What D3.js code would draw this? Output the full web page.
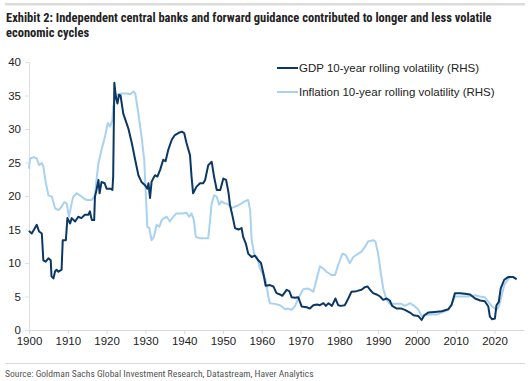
<!DOCTYPE html>
<html>
<head>
<meta charset="utf-8">
<script src="https://cdn.jsdelivr.net/npm/d3@7"></script>
<style>
  body { margin: 0; background: #fff; }
  svg { display: block; }
</style>
</head>
<body>
<svg id="chart" width="530" height="381"></svg>
<script>
// GDP 10-year rolling volatility, [year, value]
const gdpVol = [
  [1900, 14.8], [1900.7, 14.4], [1901.2, 14.9], [1902, 15.7], [1902.6, 14.7], [1903.3, 14.4],
  [1903.7, 10.4], [1904.3, 10.2], [1905, 10.7], [1905.6, 10.4], [1905.8, 8.0], [1906.3, 7.7],
  [1906.7, 8.7], [1907.1, 9.0], [1907.6, 8.7], [1908.4, 9.0], [1908.7, 13.4], [1909.5, 13.4],
  [1909.9, 16.7], [1910.6, 15.9], [1911, 16.7], [1911.9, 16.2], [1912.7, 16.9], [1913.5, 16.7],
  [1914.4, 17.2], [1915.3, 17.2], [1915.7, 17.7], [1916.2, 16.4], [1916.8, 16.4], [1917, 19.9],
  [1917.4, 20.9], [1917.9, 22.4], [1918.2, 20.4], [1918.7, 22.1], [1919.5, 21.9], [1920, 21.1],
  [1921, 21.1], [1921.5, 20.9], [1921.7, 22.9], [1922, 36.9], [1922.4, 34.8], [1922.8, 33.8],
  [1923.2, 35.1], [1923.6, 35.0], [1924.3, 32.3], [1925.6, 30.1], [1926.5, 27.9], [1927.3, 25.6],
  [1928.2, 23.1], [1929, 22.1], [1929.9, 21.6], [1930.5, 21.1], [1930.8, 21.9], [1931.2, 19.7],
  [1931.6, 22.1], [1932, 22.6], [1932.5, 23.1], [1933.1, 22.9], [1933.8, 23.9], [1934.6, 25.4],
  [1935.2, 25.2], [1935.9, 26.9], [1936.8, 28.4], [1937.6, 29.1], [1938.5, 29.4], [1939.4, 29.6],
  [1940, 29.4], [1940.6, 27.9], [1941.5, 26.1], [1941.9, 22.9], [1942.3, 20.4], [1943.2, 21.4],
  [1944.1, 21.9], [1944.9, 21.9], [1945.4, 22.4], [1946.2, 24.6], [1947.1, 25.1], [1947.7, 22.9],
  [1948.4, 20.9], [1949.3, 20.9], [1950.1, 22.6], [1950.8, 22.4], [1951.4, 20.6], [1951.8, 18.7],
  [1952.5, 16.9], [1953.1, 15.2], [1954, 15.0], [1954.8, 15.2], [1955.2, 13.9], [1955.9, 12.9],
  [1956.5, 11.4], [1957.4, 10.9], [1958.2, 11.1], [1959.1, 10.4], [1959.8, 10.0], [1960.4, 8.5],
  [1961, 6.6], [1962.1, 6.7], [1963, 6.5], [1963.8, 5.5], [1964.7, 5.3], [1965.3, 5.1],
  [1966.4, 6.0], [1967.1, 5.8], [1967.7, 4.9], [1968.6, 4.8], [1969.4, 4.9], [1970.3, 3.5],
  [1971.6, 3.4], [1972.4, 3.2], [1973.3, 3.7], [1974.2, 3.8], [1975, 3.7], [1975.9, 4.0],
  [1976.5, 3.6], [1977.2, 4.0], [1978.1, 3.6], [1979, 4.7], [1979.7, 3.7], [1980.4, 3.6],
  [1981.4, 3.7], [1982.3, 4.7], [1983.1, 5.7], [1984.4, 5.8], [1985.7, 6.0], [1986.6, 6.4],
  [1987.3, 6.5], [1987.9, 6.0], [1988.7, 5.5], [1989.6, 5.3], [1990.5, 5.0], [1991.3, 4.5],
  [1992.2, 4.7], [1993, 4.4], [1993.6, 3.6], [1994.8, 3.2], [1996, 3.2], [1996.9, 3.0],
  [1998.2, 2.6], [1999.1, 2.2], [2000.3, 2.1], [2001.2, 1.5], [2001.9, 2.2], [2002.9, 2.6],
  [2004.6, 2.7], [2006.4, 2.8], [2008.1, 3.1], [2008.9, 3.7], [2009.8, 5.5], [2011.1, 5.5],
  [2012.4, 5.4], [2013.7, 5.3], [2015, 4.7], [2016.3, 4.4], [2017.5, 4.3], [2018.4, 3.5],
  [2018.8, 2.0], [2019.4, 1.6], [2020.1, 1.7], [2020.5, 3.7], [2021.1, 4.2], [2021.6, 6.2],
  [2022.5, 7.5], [2023.5, 7.9], [2024.8, 7.9], [2025.7, 7.6]
];

// Inflation 10-year rolling volatility, [year, value]
const inflVol = [
  [1900, 24.1], [1900.3, 25.6], [1901.2, 25.8], [1902, 25.6], [1902.6, 24.6], [1903.3, 24.9],
  [1903.7, 24.4], [1904.3, 22.1], [1905, 20.1], [1905.9, 19.9], [1906.7, 18.2], [1907.6, 17.9],
  [1908.4, 18.4], [1909.1, 19.1], [1909.7, 18.9], [1910.3, 16.9], [1911, 18.9], [1911.4, 19.9],
  [1912.3, 20.4], [1913.1, 20.1], [1914, 19.7], [1914.9, 19.4], [1916.2, 19.4], [1917, 20.1],
  [1917.4, 22.4], [1917.9, 24.9], [1918.7, 26.9], [1919.6, 28.9], [1920.3, 30.9], [1920.9, 30.4],
  [1921.5, 31.3], [1921.7, 33.3], [1922.2, 34.6], [1922.9, 35.2], [1923.9, 35.3], [1925.2, 35.3],
  [1926.1, 35.2], [1926.9, 35.6], [1927.4, 35.3], [1928.2, 32.3], [1929, 28.9], [1929.7, 25.4],
  [1930.1, 20.4], [1930.5, 15.4], [1931, 15.2], [1931.6, 13.4], [1932.2, 13.9], [1932.9, 15.7],
  [1933.6, 15.4], [1934.2, 16.4], [1934.8, 16.7], [1935.5, 16.9], [1936.3, 16.2], [1937.2, 16.9],
  [1938, 17.4], [1939.7, 17.4], [1940.6, 17.5], [1941.3, 16.9], [1941.9, 17.4], [1942.5, 16.4],
  [1943, 13.9], [1944, 13.7], [1946.2, 13.7], [1946.6, 15.9], [1947.1, 18.9], [1947.7, 20.1],
  [1948.4, 19.9], [1949, 18.7], [1949.6, 19.2], [1950.5, 18.9], [1951.3, 18.8], [1952.2, 18.2],
  [1953.5, 18.5], [1954.8, 18.9], [1955.9, 19.3], [1956.5, 19.4], [1957, 17.9], [1957.4, 13.4],
  [1958.1, 11.2], [1958.8, 10.9], [1959.5, 9.2], [1960.4, 8.2], [1961, 7.5], [1961.7, 5.0],
  [1962.1, 4.0], [1963.4, 3.9], [1964.7, 3.7], [1966, 3.1], [1966.8, 3.2], [1967.7, 3.0],
  [1968.6, 3.6], [1969.4, 4.7], [1970.7, 6.1], [1972, 6.2], [1973.3, 5.7], [1974.1, 7.5],
  [1975, 9.5], [1975.8, 9.2], [1976.7, 8.7], [1978, 8.2], [1978.9, 8.2], [1979.7, 9.7],
  [1980.8, 11.4], [1981.6, 11.2], [1982.7, 10.0], [1983.6, 10.9], [1984.9, 11.4], [1985.7, 11.7],
  [1986.6, 12.4], [1987.4, 13.2], [1988.7, 13.4], [1989.3, 13.2], [1990, 11.4], [1990.7, 8.5],
  [1991.3, 6.2], [1992.2, 4.5], [1993, 3.9], [1994.3, 3.9], [1996, 3.9], [1996.9, 3.6],
  [1998.2, 4.0], [1999.3, 3.6], [2000.3, 3.1], [2001.2, 2.1], [2002.1, 2.2], [2003.4, 2.3],
  [2005.1, 2.3], [2006.8, 2.7], [2008.1, 3.0], [2009.2, 4.2], [2009.8, 5.0], [2011.1, 5.0],
  [2013.2, 5.0], [2015, 5.2], [2016.3, 5.0], [2017.5, 4.9], [2018.4, 4.2], [2019.4, 3.5],
  [2020.5, 3.0], [2021.1, 3.5], [2021.8, 5.0], [2022.5, 6.7], [2023.1, 7.3], [2024, 7.9],
  [2024.9, 7.9], [2025.7, 7.5]
];

const xTicks = [1900, 1910, 1920, 1930, 1940, 1950, 1960, 1970, 1980, 1990, 2000, 2010, 2020];
const yTicks = [0, 5, 10, 15, 20, 25, 30, 35, 40];

const seriesNames = ["GDP 10-year rolling volatility (RHS)", "Inflation 10-year rolling volatility (RHS)"];
const seriesColors = ["#0b3765", "#a8d2f0"];

const titleLines = [
  "Exhibit 2: Independent central banks and forward guidance contributed to longer and less volatile",
  "economic cycles"
];
const sourceText = "Source: Goldman Sachs Global Investment Research, Datastream, Haver Analytics";

const svg = d3.select("#chart");
const W = 530, H = 381;
const margin = {left: 29, right: 6, top: 62, bottom: 51};

const x = d3.scaleLinear().domain([1900, 2027.6]).range([margin.left, W - margin.right]);
const y = d3.scaleLinear().domain([0, 40]).range([H - margin.bottom, margin.top]);

// top rule
svg.append("rect").attr("x", 5).attr("y", 3).attr("width", 520).attr("height", 2.5).attr("fill", "#dcdcdc");

// title
const narrow = "'Liberation Sans Narrow', 'Arial Narrow', 'Roboto Condensed', sans-serif";
svg.append("g").selectAll("text").data(titleLines).join("text")
  .attr("x", 6).attr("y", (d, i) => 22 + i * 15)
  .attr("font-family", narrow).attr("font-weight", "bold").attr("font-size", 12.5)
  .attr("fill", "#222").text(d => d);

// axes
const yAxis = svg.append("g").attr("transform", `translate(${margin.left},0)`)
  .call(d3.axisLeft(y).tickValues(yTicks).tickSize(4).tickPadding(4));
yAxis.select(".domain").attr("stroke", "#e0e0e0");
yAxis.selectAll(".tick line").attr("stroke", "#e0e0e0");
yAxis.selectAll("text").attr("font-family", "Arial, 'Liberation Sans', sans-serif")
  .attr("font-size", 11.5).attr("fill", "#222");

const xAxis = svg.append("g").attr("transform", `translate(0,${H - margin.bottom})`)
  .call(d3.axisBottom(x).tickValues(xTicks).tickFormat(d3.format("d")).tickSize(4).tickSizeOuter(0).tickPadding(3));
xAxis.select(".domain").attr("stroke", "#d9d9d9");
xAxis.selectAll(".tick line").attr("stroke", "#d9d9d9");
xAxis.selectAll("text").attr("font-family", "Arial, 'Liberation Sans', sans-serif")
  .attr("font-size", 11.5).attr("fill", "#222");

// lines
const line = d3.line().x(d => x(d[0])).y(d => y(d[1]));
svg.append("path").datum(inflVol).attr("d", line)
  .attr("fill", "none").attr("stroke", seriesColors[1]).attr("stroke-width", 2).attr("stroke-linejoin", "round");
svg.append("path").datum(gdpVol).attr("d", line)
  .attr("fill", "none").attr("stroke", seriesColors[0]).attr("stroke-width", 2).attr("stroke-linejoin", "round");

// legend
const legend = svg.append("g").attr("transform", "translate(277,68)");
const li = legend.selectAll("g").data(seriesNames).join("g")
  .attr("transform", (d, i) => `translate(0,${i * 24})`);
li.append("line").attr("x1", 0).attr("x2", 21).attr("y1", 0).attr("y2", 0)
  .attr("stroke", (d, i) => seriesColors[i]).attr("stroke-width", 2);
li.append("text").attr("x", 22).attr("y", 4)
  .attr("font-family", "Arial, 'Liberation Sans', sans-serif").attr("font-size", 11.5)
  .attr("fill", "#222").text(d => d);

// footer
svg.append("rect").attr("x", 5).attr("y", 363).attr("width", 520).attr("height", 1).attr("fill", "#d9d9d9");
svg.append("text").attr("x", 5).attr("y", 377)
  .attr("font-family", narrow).attr("font-size", 9.6).attr("fill", "#555").text(sourceText);
</script>
</body>
</html>
